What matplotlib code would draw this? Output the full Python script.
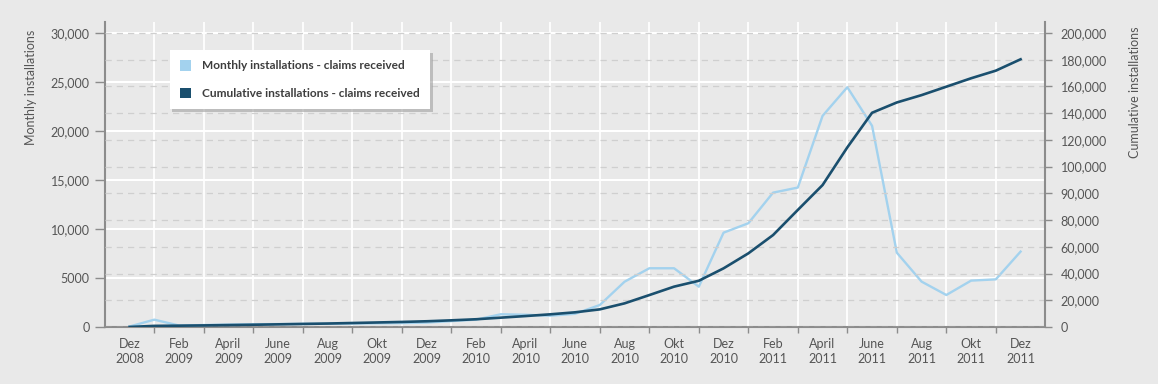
import numpy as np
import matplotlib
matplotlib.use('Agg')
import matplotlib.pyplot as plt
from matplotlib.patches import Patch
from matplotlib.ticker import FuncFormatter, FixedLocator

plt.rcParams['font.family'] = ['Lato', 'DejaVu Sans']

# month index 0 = Dez 2008 ... 36 = Dez 2011
month_labels = ['Dez\n2008', 'Feb\n2009', 'April\n2009', 'June\n2009', 'Aug\n2009',
                'Okt\n2009', 'Dez\n2009', 'Feb\n2010', 'April\n2010', 'June\n2010',
                'Aug\n2010', 'Okt\n2010', 'Dez\n2010', 'Feb\n2011', 'April\n2011',
                'June\n2011', 'Aug\n2011', 'Okt\n2011', 'Dez\n2011']

monthly = [50, 750, 150, 200, 250, 280, 300, 320, 330, 350, 380, 400, 450, 600, 750,
           1300, 1250, 1150, 1350, 2245, 4620, 5990, 5990, 4110, 9620, 10580, 13700,
           14220, 21530, 24450, 20510, 7580, 4630, 3265, 4730, 4860, 7690]

cumulative = [50, 850, 1000, 1200, 1450, 1700, 2000, 2300, 2600, 3000, 3400, 3800,
              4300, 5000, 5800, 7000, 8200, 9500, 11000, 13200, 17700, 23900, 30200,
              34600, 43900, 55100, 68800, 83800, 93100, 114400, 140300, 148000,
              153500, 159800, 166100, 171800, 180300]

left_ticks = [0, 5000, 10000, 15000, 20000, 25000, 30000]
right_ticks = [0, 20000, 40000, 60000, 80000, 90000, 100000, 120000, 140000,
               160000, 180000, 200000]

bg = '#e9e9e9'
light = '#a3d2ee'
dark = '#1a4f6e'
spine_c = '#8c8c8c'
text_c = '#555555'

# right axis in the original has evenly spaced ticks with a stretched 80k-100k segment
knots_v = [-1e6, 0, 80000, 100000, 1e6]
knots_p = [-50, 0, 4, 6, 51]

def fwd(v):
    return np.interp(v, knots_v, knots_p)

def inv(p):
    return np.interp(p, knots_p, knots_v)

x = np.arange(len(monthly))

fig = plt.figure(figsize=(11.58, 3.84), dpi=100, facecolor=bg)
ax = fig.add_axes([0.0905, 0.1484, 0.8122, 0.7943])
ax.set_facecolor(bg)
ax2 = ax.twinx()

ax.plot(x, monthly, color=light, lw=1.7, solid_joinstyle='round', zorder=3)
ax2.plot(x, cumulative, color=dark, lw=1.9, solid_joinstyle='round', zorder=4)

ax.set_xlim(-1, 37)
ax.set_ylim(0, 31100)
ax2.set_yscale('function', functions=(fwd, inv))
ax2.set_ylim(0, 208200)

# x axis: grid/ticks at odd months, labels at even months
ax.xaxis.set_major_locator(FixedLocator(np.arange(1, 37, 2)))
ax.xaxis.set_minor_locator(FixedLocator(np.arange(0, 37, 2)))
ax.xaxis.set_major_formatter(FuncFormatter(lambda v, p: ''))
ax.set_xticklabels(month_labels, minor=True)
ax.tick_params(axis='x', which='major', direction='out', length=4, width=1,
               color=spine_c)
ax.tick_params(axis='x', which='minor', length=0, pad=8, labelsize=9,
               labelcolor=text_c)
for t in ax.get_xticklabels(minor=True):
    t.set_linespacing(1.25)

ax.set_yticks(left_ticks)
ax.yaxis.set_major_formatter(FuncFormatter(
    lambda v, p: f'{v:,.0f}' if v >= 10000 else f'{v:.0f}'))
ax.tick_params(axis='y', direction='out', length=7, width=1, color=spine_c,
               pad=4, labelsize=9, labelcolor=text_c)

ax2.yaxis.set_major_locator(FixedLocator(right_ticks))
ax2.yaxis.set_minor_locator(FixedLocator([]))
ax2.yaxis.set_major_formatter(FuncFormatter(lambda v, p: f'{v:,.0f}'))
ax2.tick_params(axis='y', direction='out', length=5, width=1, color=spine_c,
                pad=6, labelsize=9, labelcolor=text_c)

# grids
ax.set_axisbelow(True)
ax.grid(axis='y', color='white', lw=1.5)
ax.grid(axis='x', which='major', color='white', lw=1.3)
ax2.grid(axis='y', color='#cfcfcf', lw=0.9, ls=(0, (5, 4)))
ax2.set_axisbelow(True)

for s in ['top', 'right']:
    ax.spines[s].set_visible(False)
for s in ['top', 'left', 'bottom']:
    ax2.spines[s].set_visible(False)
for sp in [ax.spines['left'], ax.spines['bottom'], ax2.spines['right']]:
    sp.set_color(spine_c)
    sp.set_linewidth(1.5)

ax.set_ylabel('Monthly installations', fontsize=9, color=text_c)
ax.yaxis.set_label_coords(-0.072, 0.787)
ax2.set_ylabel('Cumulative installations', fontsize=9, color=text_c)
ax2.yaxis.set_label_coords(1.089, 0.77)

handles = [Patch(facecolor=light, edgecolor='none'),
           Patch(facecolor=dark, edgecolor='none')]
leg = ax2.legend(handles, ['Monthly installations - claims received',
                           'Cumulative installations - claims received'],
                 loc='upper left', bbox_to_anchor=(0.069, 0.908),
                 frameon=True, fancybox=False, framealpha=1,
                 shadow={'color': '#a0a0a0', 'alpha': 0.6},
                 handlelength=0.95, handleheight=0.95, handletextpad=0.9,
                 labelspacing=1.35, borderpad=0.85, borderaxespad=0,
                 prop={'size': 8.6, 'weight': 'bold'})
leg.get_frame().set_edgecolor('white')
leg.get_frame().set_linewidth(0)
for t in leg.get_texts():
    t.set_color('#3d3d3d')

fig.savefig('out.png', dpi=100, facecolor=bg)
